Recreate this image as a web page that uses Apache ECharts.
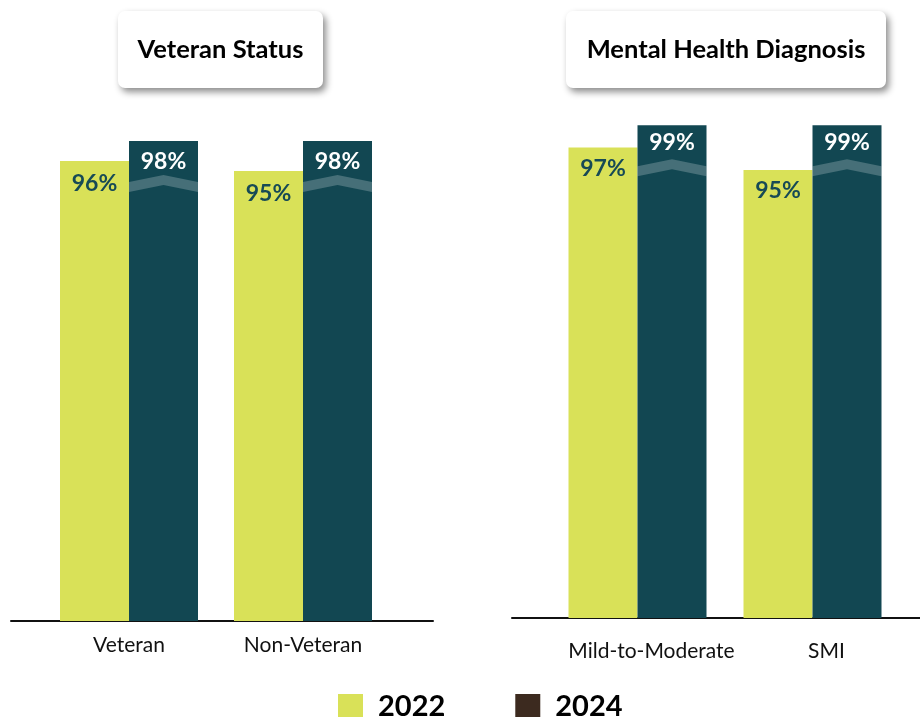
<!DOCTYPE html>
<html>
<head>
<meta charset="utf-8">
<script src="https://cdn.jsdelivr.net/npm/echarts@6/dist/echarts.min.js"></script>
<style>
  html, body { margin: 0; padding: 0; background: #ffffff; }
  #chart { width: 920px; height: 717px; }
</style>
</head>
<body>
<div id="chart"></div>
<script>
// Survey results by group, 2022 vs 2024 (percent)
const leftTitle = 'Veteran Status';
const leftCategories = ['Veteran', 'Non-Veteran'];
const leftValues2022 = [96, 95];
const leftValues2024 = [98, 98];

const rightTitle = 'Mental Health Diagnosis';
const rightCategories = ['Mild-to-Moderate', 'SMI'];
const rightValues2022 = [97, 95];
const rightValues2024 = [99, 99];

const years = ['2022', '2024'];

const COLOR_2022 = '#d9e158';
const COLOR_2024 = '#124752';
const LEGEND_2024 = '#3c2a1f';
const LABEL_DARK = '#174a55';
const FONT = 'Lato';
const BAR_W = 69;

const chart = echarts.init(document.getElementById('chart'), null, { renderer: 'canvas' });

// broken-axis chevron drawn across each 2024 bar, just below its top
function breakMark(params, api) {
  const top = api.coord([api.value(0), api.value(1)]);
  const x0 = top[0];
  const x1 = top[0] + BAR_W;
  const xc = (x0 + x1) / 2;
  const yPeak = top[1] + 39;
  const yEdge = yPeak + 7;
  const h = 5;
  return {
    type: 'polygon',
    shape: {
      points: [
        [x0, yEdge - h], [xc, yPeak - h], [x1, yEdge - h],
        [x1, yEdge + h], [xc, yPeak + h], [x0, yEdge + h]
      ]
    },
    style: { fill: 'rgba(255,255,255,0.22)' },
    z2: 10
  };
}

function barSeries(name, values, xi, color, label) {
  return {
    name: name,
    type: 'bar',
    xAxisIndex: xi,
    yAxisIndex: xi,
    data: values,
    barWidth: BAR_W,
    barGap: '0%',
    itemStyle: { color: color },
    label: label,
    emphasis: { disabled: true },
    silent: true
  };
}

function valueLabel(color, distance) {
  return {
    show: true,
    position: 'insideTop',
    distance: distance,
    formatter: '{c}%',
    color: color,
    fontFamily: FONT,
    fontWeight: 'bold',
    fontSize: 23
  };
}

function breakSeries(values, xi) {
  return {
    name: 'break',
    type: 'custom',
    xAxisIndex: xi,
    yAxisIndex: xi,
    data: values.map((v, i) => [i, v]),
    renderItem: breakMark,
    silent: true,
    z: 5
  };
}

function titleBox(text, x, y, w, h) {
  return {
    type: 'group',
    left: x,
    top: y,
    children: [
      {
        type: 'rect',
        shape: { x: 0, y: 0, width: w, height: h, r: 7 },
        style: {
          fill: '#ffffff',
          shadowBlur: 7,
          shadowOffsetX: 3,
          shadowOffsetY: 4,
          shadowColor: 'rgba(0,0,0,0.45)'
        }
      },
      {
        type: 'text',
        x: w / 2,
        y: h / 2,
        style: {
          text: text,
          fill: '#000000',
          font: 'bold 25.5px ' + FONT,
          align: 'center',
          verticalAlign: 'middle'
        }
      }
    ]
  };
}

const hiddenValueAxis = (i, max, min) => ({
  type: 'value', gridIndex: i, min: min, max: max, show: false
});

const catAxis = (i, data, margin, padLeft) => ({
  type: 'category',
  gridIndex: i,
  data: data,
  axisLine: { show: false },
  axisTick: { show: false },
  axisLabel: {
    interval: 0,
    margin: margin,
    padding: [0, 0, 0, padLeft],
    color: '#111111',
    fontFamily: FONT,
    fontSize: 21
  }
});

// plain baseline axes spanning each panel
const baseAxis = (i) => ({
  type: 'category',
  gridIndex: i,
  data: [''],
  axisLine: { show: true, lineStyle: { color: '#111111', width: 2 } },
  axisTick: { show: false },
  axisLabel: { show: false }
});

const option = {
  backgroundColor: '#ffffff',
  animation: false,
  grid: [
    { left: 42, top: 121, width: 348, height: 500 },
    { left: 550, top: 114, width: 350, height: 504 },
    { left: 11, top: 121, width: 422, height: 500 },
    { left: 512, top: 114, width: 420, height: 504 }
  ],
  xAxis: [
    catAxis(0, leftCategories, 14, 0),
    catAxis(1, rightCategories, 23, 28),
    baseAxis(2),
    baseAxis(3)
  ],
  yAxis: [
    hiddenValueAxis(0, 100, 50),
    hiddenValueAxis(1, 100, 55),
    hiddenValueAxis(2, 1, 0),
    hiddenValueAxis(3, 1, 0)
  ],
  legend: {
    left: 338,
    top: 692,
    padding: 0,
    icon: 'rect',
    itemWidth: 25,
    itemHeight: 25,
    itemGap: 70,
    selectedMode: false,
    data: [
      { name: years[0], itemStyle: { color: COLOR_2022 } },
      { name: years[1], itemStyle: { color: LEGEND_2024 } }
    ],
    textStyle: {
      fontFamily: FONT,
      fontWeight: 'bold',
      fontSize: 29,
      color: '#000000',
      padding: [0, 0, 0, 10]
    }
  },
  graphic: [
    titleBox(leftTitle, 118, 11, 205, 77),
    titleBox(rightTitle, 566, 11, 320, 77)
  ],
  series: [
    barSeries(years[0], leftValues2022, 0, COLOR_2022, valueLabel(LABEL_DARK, 11)),
    barSeries(years[1], leftValues2024, 0, COLOR_2024, valueLabel('#ffffff', 9)),
    breakSeries(leftValues2024, 0),
    barSeries(years[0], rightValues2022, 1, COLOR_2022, valueLabel(LABEL_DARK, 9)),
    barSeries(years[1], rightValues2024, 1, COLOR_2024, valueLabel('#ffffff', 6)),
    breakSeries(rightValues2024, 1)
  ]
};

chart.setOption(option);
</script>
</body>
</html>
